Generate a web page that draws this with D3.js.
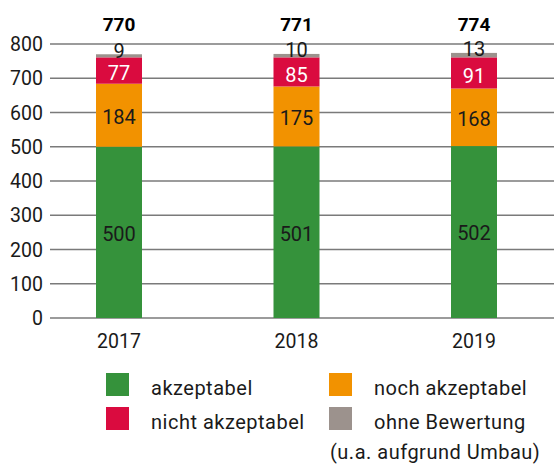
<!DOCTYPE html>
<meta charset="utf-8">
<script src="https://d3js.org/d3.v7.min.js"></script>
<style>
    body { margin: 0; background: #fff; }
    text { font-family: 'Roboto', sans-serif; fill: #1a1a1a; }
    .tick-label { font-size: 19.5px; }
    .total { font-size: 19px; font-weight: bold; fill: #000; }
    .seg-label { font-size: 20px; }
    .legend-text { font-size: 20px; letter-spacing: 0.5px; }
    .grid line { stroke: #7a7a7a; stroke-width: 1.5px; }
</style>
<div id="chart"></div>
<script>
    // data
    let years = ["2017", "2018", "2019"];
    let akzeptabel = [500, 501, 502];
    let nochAkzeptabel = [184, 175, 168];
    let nichtAkzeptabel = [77, 85, 91];
    let ohneBewertung = [9, 10, 13];
    let totals = [770, 771, 774];
    let yTicks = [0, 100, 200, 300, 400, 500, 600, 700, 800];

    let seriesNames = ["akzeptabel", "noch akzeptabel", "nicht akzeptabel", "ohne Bewertung"];
    let seriesColors = ["#35923b", "#f29200", "#da0b3f", "#9c928d"];
    let labelColors = ["#1a1a1a", "#1a1a1a", "#ffffff", "#1a1a1a"];

    let width = 554, height = 465;

    let svg = d3.select("#chart")
        .append("svg")
        .attr("width", width)
        .attr("height", height);

    let y = d3.scaleLinear()
        .domain([0, 800])
        .range([318, 44]);

    let x = d3.scalePoint()
        .domain(years)
        .range([119, 474]);

    let barWidth = 46;

    // gridlines
    let grid = svg.append("g").attr("class", "grid");
    grid.selectAll("line")
        .data(yTicks)
        .enter()
        .append("line")
        .attr("x1", 50)
        .attr("x2", width)
        .attr("y1", d => y(d))
        .attr("y2", d => y(d));

    // y tick labels
    svg.selectAll(".tick-label.y")
        .data(yTicks)
        .enter()
        .append("text")
        .attr("class", "tick-label y")
        .attr("x", 43)
        .attr("y", d => y(d))
        .attr("dy", "0.36em")
        .style("text-anchor", "end")
        .text(d => d);

    // stack the rows
    let rows = years.map((yr, i) => ({
        year: yr,
        s0: akzeptabel[i],
        s1: nochAkzeptabel[i],
        s2: nichtAkzeptabel[i],
        s3: ohneBewertung[i]
    }));
    let stacked = d3.stack().keys(["s0", "s1", "s2", "s3"])(rows);

    stacked.forEach(function (layer, k) {
        svg.append("g")
            .selectAll("rect")
            .data(layer)
            .enter()
            .append("rect")
            .attr("x", d => x(d.data.year) - barWidth / 2)
            .attr("y", d => y(d[1]))
            .attr("height", d => y(d[0]) - y(d[1]))
            .attr("width", barWidth)
            .attr("fill", seriesColors[k]);
    });

    stacked.forEach(function (layer, k) {
        svg.append("g")
            .selectAll("text")
            .data(layer)
            .enter()
            .append("text")
            .attr("class", "seg-label")
            .attr("x", d => x(d.data.year))
            .attr("y", d => k === 3 ? y(d[1]) - 5 : (y(d[0]) + y(d[1])) / 2 + (k === 2 ? 1.5 : 0))
            .attr("dy", "0.42em")
            .style("text-anchor", "middle")
            .style("fill", labelColors[k])
            .text(d => d[1] - d[0]);
    });

    // totals
    svg.selectAll(".total")
        .data(totals)
        .enter()
        .append("text")
        .attr("class", "total")
        .attr("x", (d, i) => x(years[i]))
        .attr("y", 31)
        .style("text-anchor", "middle")
        .text(d => d);

    // year labels
    svg.selectAll(".tick-label.x")
        .data(years)
        .enter()
        .append("text")
        .attr("class", "tick-label x")
        .attr("x", d => x(d))
        .attr("y", 348)
        .style("text-anchor", "middle")
        .text(d => d);

    // legend
    let legendPos = [[106, 373], [329, 373], [106, 407], [329, 407]];
    let legend = svg.append("g");
    seriesNames.forEach(function (name, k) {
        let p = legendPos[k];
        legend.append("rect")
            .attr("x", p[0])
            .attr("y", p[1])
            .attr("width", 23)
            .attr("height", 23)
            .attr("fill", seriesColors[k]);
        legend.append("text")
            .attr("class", "legend-text")
            .attr("x", p[0] + 45)
            .attr("y", p[1] + 22)
            .text(name);
    });
    legend.append("text")
        .attr("class", "legend-text")
        .attr("x", 330)
        .attr("y", 459)
        .text("(u.a. aufgrund Umbau)");
</script>
